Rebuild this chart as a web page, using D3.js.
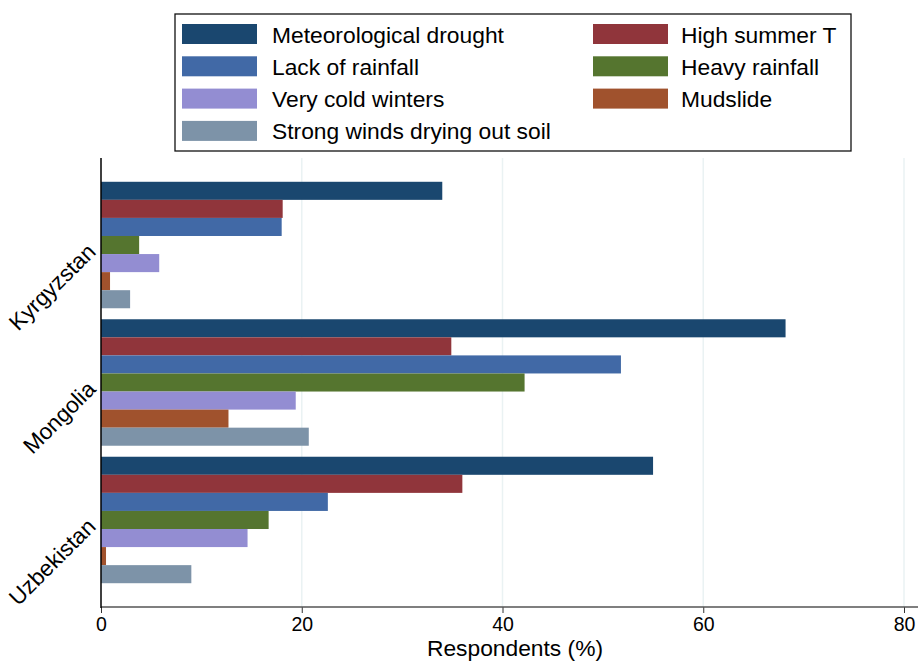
<!DOCTYPE html>
<html>
<head>
<meta charset="utf-8">
<script src="https://cdn.jsdelivr.net/npm/d3@7"></script>
<style>
  html, body { margin: 0; padding: 0; background: #fff; }
  svg { display: block; font-family: "Liberation Sans", Arial, sans-serif; }
</style>
</head>
<body>
<svg id="chart" width="918" height="663"></svg>
<script>
const countries = ["Kyrgyzstan", "Mongolia", "Uzbekistan"];
const seriesNames = ["Meteorological drought", "High summer T", "Lack of rainfall", "Heavy rainfall", "Very cold winters", "Mudslide", "Strong winds drying out soil"];
const meteorologicalDrought = [34.0, 68.2, 55.0];
const highSummerT = [18.1, 34.9, 36.0];
const lackOfRainfall = [18.0, 51.8, 22.6];
const heavyRainfall = [3.8, 42.2, 16.7];
const veryColdWinters = [5.8, 19.4, 14.6];
const mudslide = [0.9, 12.7, 0.5];
const strongWinds = [2.9, 20.7, 9.0];
const xTicks = [0, 20, 40, 60, 80];
const colors = ["#1a476f", "#90353b", "#4169a6", "#55752f", "#938dd2", "#a0522d", "#7d93a8"];

const seriesValues = [meteorologicalDrought, highSummerT, lackOfRainfall, heavyRainfall, veryColdWinters, mudslide, strongWinds];

const svg = d3.select("#chart");
const mLeft = 101, mRight = 904, mTop = 158, mBottom = 607;

const x = d3.scaleLinear().domain([0, 80]).range([mLeft, mRight]);
const y0 = d3.scaleBand().domain(countries).range([mTop, mBottom]).paddingInner(0.08).paddingOuter(0.173);
const y1 = d3.scaleBand().domain(seriesNames).range([0, y0.bandwidth()]).padding(0);

// gridlines
svg.append("g").selectAll("line").data(xTicks.filter(d => d > 0)).join("line")
  .attr("x1", d => x(d)).attr("x2", d => x(d))
  .attr("y1", mTop).attr("y2", mBottom)
  .attr("stroke", "#eaf2f3").attr("stroke-width", 1.5);

// bars
const groups = svg.append("g").selectAll("g").data(countries).join("g")
  .attr("transform", d => `translate(0,${y0(d)})`);
groups.selectAll("rect")
  .data((c, ci) => seriesNames.map((s, si) => ({ s, si, v: seriesValues[si][ci] })))
  .join("rect")
  .attr("x", x(0))
  .attr("y", d => y1(d.s))
  .attr("width", d => x(d.v) - x(0))
  .attr("height", y1.bandwidth())
  .attr("fill", d => colors[d.si]);

// x axis
const xAxis = d3.axisBottom(x).tickValues(xTicks).tickSize(6).tickPadding(4).tickFormat(d3.format("d"));
const gx = svg.append("g").attr("transform", `translate(0,${mBottom})`).call(xAxis);
gx.select(".domain").remove();
gx.append("line").attr("x1", mLeft).attr("x2", 918).attr("y1", 0).attr("y2", 0)
  .attr("stroke", "#555").attr("stroke-width", 1.5);
gx.selectAll(".tick line").attr("stroke", "#333").attr("stroke-width", 1);
gx.selectAll(".tick text").attr("font-size", 19.5).attr("fill", "#000")
  .attr("font-family", "Liberation Sans, Arial, sans-serif");

// y axis line
svg.append("line").attr("x1", mLeft).attr("x2", mLeft).attr("y1", mTop).attr("y2", mBottom + 1)
  .attr("stroke", "#000").attr("stroke-width", 1.5);

// y labels
svg.append("g").selectAll("text").data(countries).join("text")
  .attr("transform", d => `translate(97,${y0(d) + y0.bandwidth() / 2 + 8}) rotate(-45)`)
  .attr("text-anchor", "end")
  .attr("font-size", 22.5)
  .attr("fill", "#000")
  .text(d => d);

// x title
svg.append("text").attr("x", 515).attr("y", 656).attr("text-anchor", "middle")
  .attr("font-size", 22.8).attr("fill", "#000").text("Respondents (%)");

// legend
const lg = svg.append("g");
lg.append("rect").attr("x", 175).attr("y", 14).attr("width", 676).attr("height", 137)
  .attr("fill", "#fff").attr("stroke", "#111").attr("stroke-width", 1.3);
const legendItems = [
  { i: 0, col: 0, row: 0 }, { i: 1, col: 1, row: 0 },
  { i: 2, col: 0, row: 1 }, { i: 3, col: 1, row: 1 },
  { i: 4, col: 0, row: 2 }, { i: 5, col: 1, row: 2 },
  { i: 6, col: 0, row: 3 }
];
const colX = [182, 593];
const textOffset = [90, 88];
const li = lg.selectAll("g.item").data(legendItems).join("g").attr("class", "item")
  .attr("transform", d => `translate(${colX[d.col]},${24 + d.row * 32.3})`);
li.append("rect").attr("width", 75).attr("height", 20).attr("fill", d => colors[d.i]);
li.append("text").attr("x", d => textOffset[d.col]).attr("y", 18.5).attr("font-size", 22.8).attr("fill", "#000")
  .text(d => seriesNames[d.i]);
</script>
</body>
</html>
